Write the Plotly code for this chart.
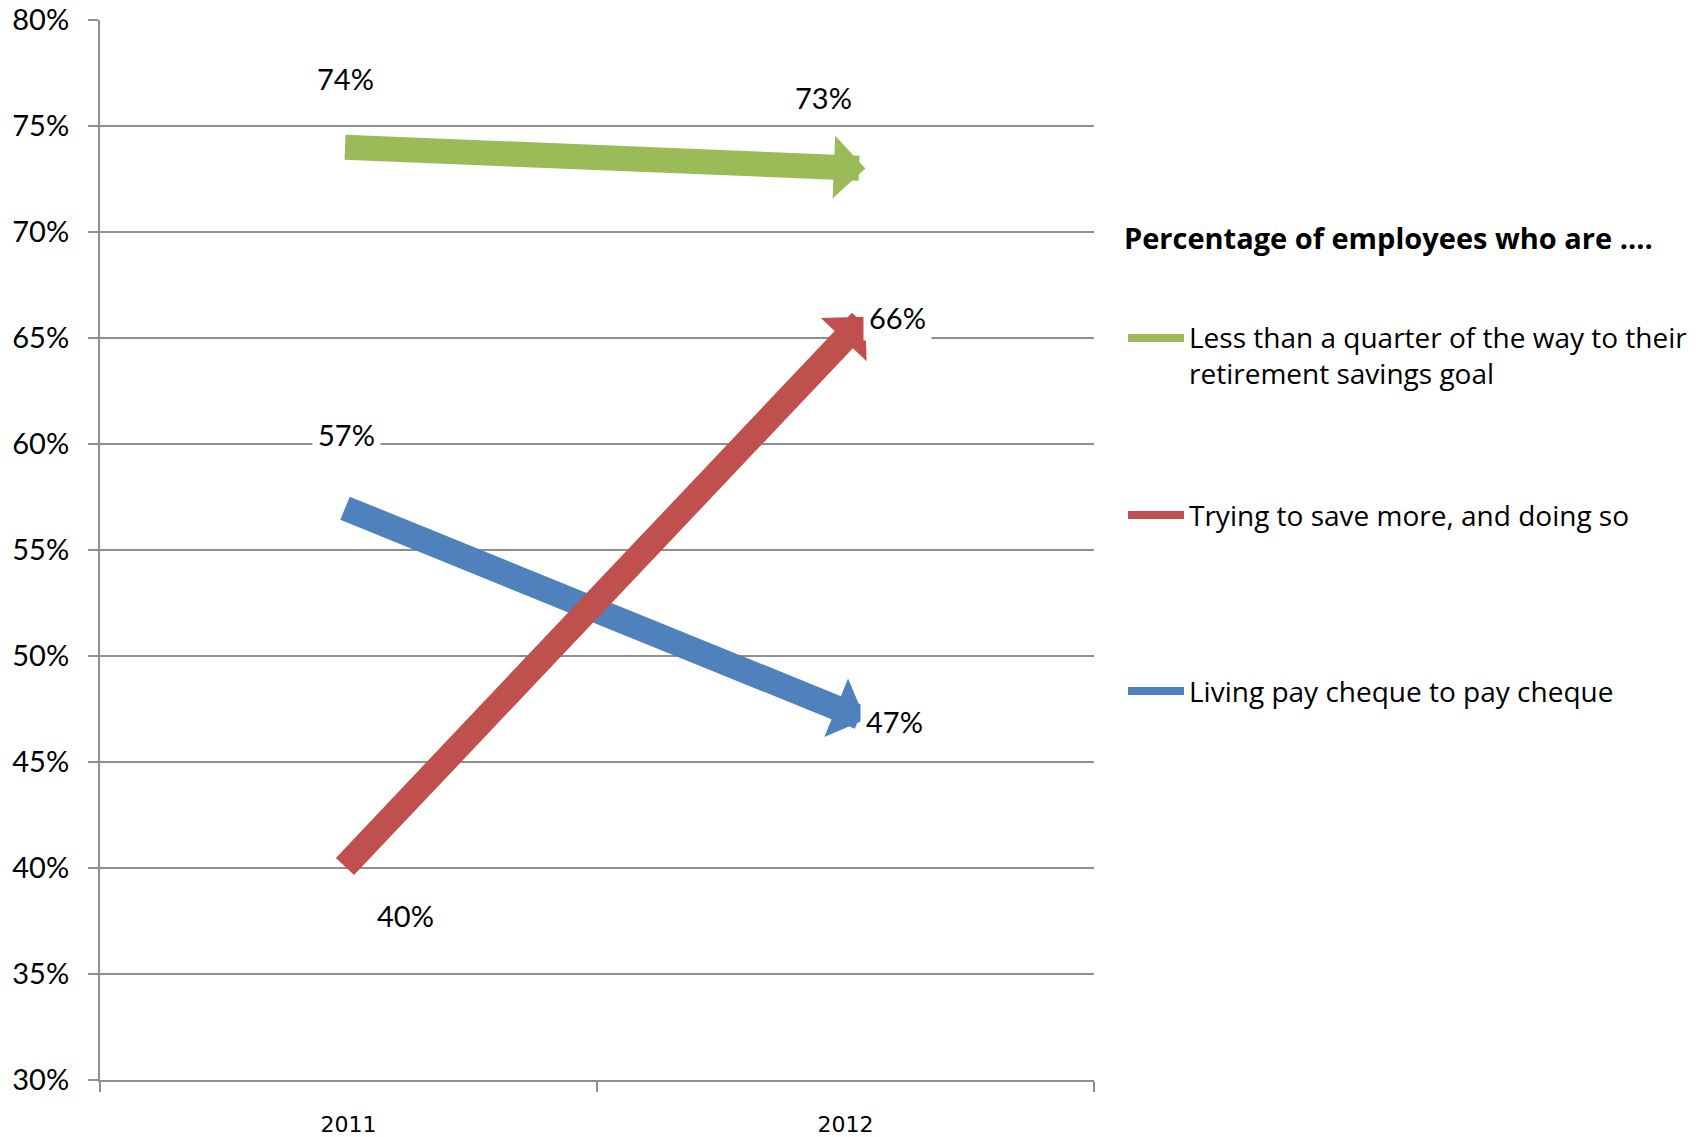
import plotly.graph_objects as go

# ---- data -------------------------------------------------------------
years = ["2011", "2012"]

legend_title = "Percentage of employees who are ...."
series_names = [
    "Less than a quarter of the way to their<br>retirement savings goal",
    "Trying to save more, and doing so",
    "Living pay cheque to pay cheque",
]
less_than_quarter = [74, 73]
saving_more = [40, 66]
pay_cheque = [57, 47]

y_tick_values = [30, 35, 40, 45, 50, 55, 60, 65, 70, 75, 80]

# ---- styling ----------------------------------------------------------
W, H = 1703, 1137
M_L, M_R, M_T, M_B = 100, 609, 20, 57
PLOT_W = W - M_L - M_R
PLOT_H = H - M_T - M_B

GREEN, RED, BLUE = "#9BBB59", "#C0504D", "#4F81BD"
GRID = "#8f8f8f"
TEXT_FONT = "Lato, 'Open Sans', sans-serif"
LEGEND_FONT = "'Open Sans', sans-serif"

SHAFT_WIDTH = 25
HEAD_SIZE = 0.42
TAIL_EXT = -0.01        # arrow tails start just left of the 2011 slot
TIP_EXT = 0.04          # arrow tips reach a little past the 2012 slot

# (series values, colour, label offsets: start dx, start dy, end dx, end dy)
series = [
    (less_than_quarter, GREEN, (-3, 69, -22, 71)),
    (pay_cheque, BLUE, (-2, 73, 49, -2)),
    (saving_more, RED, (57, -47, 52, -1)),
]
legend_order = [
    (series_names[0], GREEN),
    (series_names[1], RED),
    (series_names[2], BLUE),
]


def px(x):
    return (x - M_L) / PLOT_W


def py(y):
    return (H - M_B - y) / PLOT_H


fig = go.Figure()

# invisible trace so the category axis knows its categories
fig.add_trace(go.Scatter(x=years, y=[None, None], mode="markers",
                         showlegend=False, hoverinfo="skip"))

annotations = []
# thick arrows from 2011 to 2012
for vals, colour, _ in series:
    annotations.append(dict(
        x=1 + TIP_EXT, y=vals[1], ax=TAIL_EXT, ay=vals[0],
        xref="x", yref="y", axref="x", ayref="y",
        text="", showarrow=True, arrowhead=1,
        arrowwidth=SHAFT_WIDTH, arrowsize=HEAD_SIZE,
        arrowcolor=colour, standoff=0, startstandoff=0,
    ))

# value labels
for vals, colour, (sdx, sdy, edx, edy) in series:
    for i, (dx, dy) in enumerate([(sdx, sdy), (edx, edy)]):
        annotations.append(dict(
            x=i, y=vals[i], xref="x", yref="y",
            text=f"{vals[i]}%", showarrow=False,
            xshift=dx, yshift=dy,
            font=dict(family=TEXT_FONT, size=29, color="#000000"),
            bgcolor="#ffffff", borderpad=5,
            xanchor="center", yanchor="middle",
        ))

# legend block
annotations.append(dict(
    x=px(1122), y=py(237), xref="paper", yref="paper",
    text=f"<b>{legend_title}</b>", showarrow=False,
    xanchor="left", yanchor="middle",
    font=dict(family=LEGEND_FONT, size=29, color="#000000"),
))
legend_rows = [355, 515, 691]
swatch_rows = [338, 515, 691]
shapes = []
for (name, colour), ty, sy in zip(legend_order, legend_rows, swatch_rows):
    annotations.append(dict(
        x=px(1187), y=py(ty), xref="paper", yref="paper",
        text=name, showarrow=False, align="left",
        xanchor="left", yanchor="middle",
        font=dict(family=LEGEND_FONT, size=28, color="#000000"),
    ))
    shapes.append(dict(
        type="line", xref="paper", yref="paper",
        x0=px(1128), x1=px(1184), y0=py(sy), y1=py(sy),
        line=dict(color=colour, width=8),
    ))

fig.update_layout(
    width=W, height=H,
    margin=dict(l=M_L, r=M_R, t=M_T, b=M_B, pad=0, autoexpand=False),
    paper_bgcolor="#ffffff", plot_bgcolor="#ffffff",
    showlegend=False,
    annotations=annotations,
    shapes=shapes,
    xaxis=dict(
        type="category", categoryorder="array", categoryarray=years,
        range=[-0.5, 1.5], tickson="boundaries", automargin=False,
        ticks="outside", ticklen=10, tickwidth=2, tickcolor=GRID,
        showline=True, linecolor=GRID, linewidth=2,
        showgrid=False, zeroline=False,
        tickfont=dict(family="'DejaVu Sans', sans-serif", size=22, color="#000000"),
        ticklabelstandoff=24,
    ),
    yaxis=dict(
        range=[30, 80], tickvals=y_tick_values, automargin=False,
        ticktext=[f"{v}%" for v in y_tick_values],
        ticks="outside", ticklen=10, tickwidth=2, tickcolor=GRID,
        showline=True, linecolor=GRID, linewidth=2,
        showgrid=True, gridcolor=GRID, gridwidth=2, zeroline=False,
        tickfont=dict(family=TEXT_FONT, size=29, color="#000000"),
        ticklabelstandoff=13,
    ),
)

fig.write_html("out.html")
